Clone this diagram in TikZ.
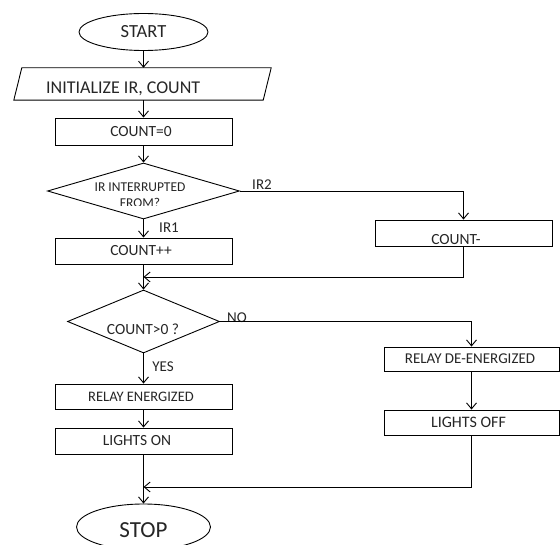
\documentclass[tikz,border=0pt]{standalone}
\usepackage{fontspec}
\setmainfont{Carlito}
\usetikzlibrary{shapes.geometric,arrows.meta}
\newcommand\offtext[2]{\makebox[0pt][c]{\hspace*{#1}#2}}
\begin{document}
\begin{tikzpicture}[x=1pt,y=-1pt,
  txt/.style={font=\fontsize{15}{18}\selectfont, text=black!85, inner sep=0pt},
  box/.style={txt, draw=black, line width=0.9pt, rectangle, minimum width=177pt, inner sep=0pt},
  term/.style={draw=black, line width=0.9pt, ellipse, inner sep=0pt, text=black!85},
  dec/.style={draw=black, line width=0.9pt, diamond, inner sep=0pt},
  ln/.style={line width=0.9pt},
  arr/.style={line width=0.9pt, -{Straight Barb[length=6pt,width=10pt]}}]
\clip (0,0) rectangle (560,545);
\fill[white] (0,0) rectangle (560,545);
% nodes
\node[term, minimum width=129pt, minimum height=37pt, font=\fontsize{18.5}{22}\selectfont] (start) at (143.5,32) {START};
\node[minimum width=249pt, minimum height=32pt, inner sep=0pt] (init) at (142.5,84) {};
\draw[ln] ([xshift=4pt]init.north west) -- ([xshift=4pt]init.north east) -- ([xshift=-4pt]init.south east) -- ([xshift=-4pt]init.south west) -- cycle;
\node[txt, anchor=west, font=\fontsize{18}{21}\selectfont] (inittxt) at (46,89) {INITIALIZE IR, COUNT};
\node[box, minimum height=27pt, font=\fontsize{15.5}{18}\selectfont] (c0) at (143.5,131.5) {\offtext{-5pt}{COUNT=0}};
\node[dec, minimum width=192pt, minimum height=56pt] (d1) at (143.5,191) {};
\begin{scope}
\clip (40,160) rectangle (250,206);
\node[txt, font=\fontsize{13.5}{16}\selectfont, align=center] (d1t) at (140,195) {IR INTERRUPTED\\FROM?};
\end{scope}
\node[box, minimum height=26pt, font=\fontsize{15.5}{18}\selectfont] (c1) at (143.5,251) {\offtext{-5pt}{COUNT++}};
\node[box, minimum height=26pt, font=\fontsize{15.5}{18}\selectfont, text height=23.5pt, text depth=0pt] (cm) at (463.5,233) {\offtext{-15pt}{COUNT-}};
\node[dec, minimum width=152pt, minimum height=63pt] (d2) at (143.5,321.5) {};
\node[txt, font=\fontsize{15.5}{18}\selectfont] (d2t) at (143,329) {COUNT>0 ?};
\node[box, minimum height=25pt, font=\fontsize{14.5}{17}\selectfont] (re) at (143.5,396.5) {\offtext{-5pt}{RELAY ENERGIZED}};
\node[box, minimum height=26pt, font=\fontsize{15.5}{18}\selectfont] (lon) at (143.5,441) {\offtext{-13pt}{LIGHTS ON}};
\node[box, minimum width=175pt, minimum height=24pt, font=\fontsize{15}{18}\selectfont] (rde) at (471.5,359) {\offtext{-3pt}{RELAY DE-ENERGIZED}};
\node[box, minimum width=175pt, minimum height=25pt, font=\fontsize{16}{19}\selectfont] (loff) at (471.5,422.5) {\offtext{-6pt}{LIGHTS OFF}};
\node[term, minimum width=134pt, minimum height=46pt, font=\fontsize{23}{27}\selectfont, text height=21pt, text depth=0pt] (stop) at (143.5,527) {STOP};
% labels
\node[txt] (lir2) at (262,185) {IR2};
\node[txt] (lir1) at (169,228) {IR1};
\node[txt] (lno) at (237,318) {NO};
\node[txt] (lyes) at (163,367) {YES};
% connectors
\draw[arr] (start.south) -- (start.south |- init.north);
\draw[arr] (c0.north |- init.south) -- (c0.north);
\draw[arr] (c0.south) -- (d1.north);
\draw[arr] (d1.east) -| (cm.north);
\draw[arr] (d1.south) -- (c1.north);
\coordinate (j1) at (143.5,277);
\draw[arr] (cm.south) |- (j1);
\draw[arr] (c1.south) -- (d2.north);
\draw[arr] (d2.east) -| (rde.north);
\draw[arr] (d2.south) -- (re.north);
\draw[arr] (re.south) -- (lon.north);
\draw[arr] (rde.south) -- (loff.north);
\coordinate (j2) at (143.5,487);
\draw[arr] (loff.south) |- (j2);
\draw[arr] (lon.south) -- (stop.north);
\end{tikzpicture}
\end{document}
